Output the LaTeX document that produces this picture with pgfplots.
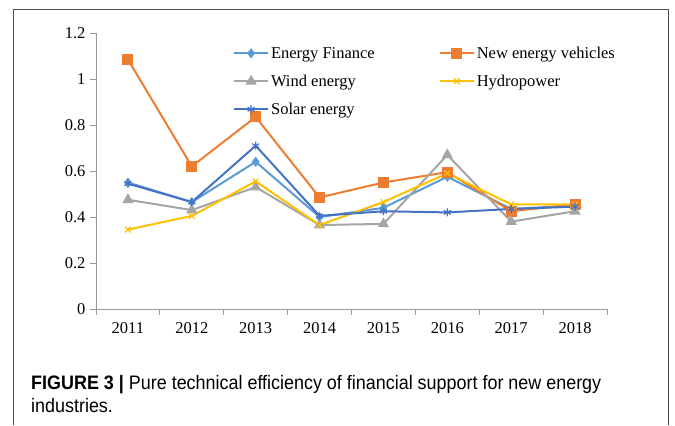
\documentclass[border=0pt]{standalone}
\usepackage{fontspec}
\setmainfont{Liberation Serif}
\newfontfamily\capfont[FakeStretch=0.92]{Liberation Sans}
\usepackage{pgfplots}
\pgfplotsset{compat=1.18}
\definecolor{cEF}{HTML}{5B9BD5}
\definecolor{cNEV}{HTML}{ED7D31}
\definecolor{cWind}{HTML}{A5A5A5}
\definecolor{cHydro}{HTML}{FFC000}
\definecolor{cSolar}{HTML}{4472C4}
\definecolor{axgray}{HTML}{9A9A9A}
\begin{document}
\begin{tikzpicture}[x=1pt,y=1pt]
\path (0,0) rectangle (675,-425);
\draw[black!70, line width=1pt] (13,-425) -- (13,-9) -- (668,-9) -- (668,-425);
\begin{axis}[
  at={(96pt,-309pt)}, anchor=south west,
  scale only axis, width=511pt, height=276pt,
  xmin=-0.5, xmax=7.5, ymin=0, ymax=1.2,
  axis x line*=bottom, axis y line*=left,
  axis line style={-, axgray, line width=1pt},
  xtick={0,...,7},
  xticklabels={2011,2012,2013,2014,2015,2016,2017,2018},
  minor xtick={-0.5,0.5,...,7.5},
  major x tick style={draw=none},
  minor x tick style={axgray, line width=1pt},
  minor tick length=6pt,
  ytick={0,0.2,0.4,0.6,0.8,1,1.2},
  yticklabels={0,0.2,0.4,0.6,0.8,1,1.2},
  y tick style={axgray, line width=1pt},
  major tick length=6pt,
  tick align=outside,
  xtick pos=bottom, ytick pos=left,
  tick label style={font=\fontsize{16.5}{19}\selectfont},
  xticklabel style={yshift=-4pt},
  yticklabel style={xshift=-1pt},
  legend style={at={(0.262,0.965)}, anchor=north west, draw=none, fill=none,
    font=\fontsize{16.5}{19}\selectfont, row sep=11pt,
    /tikz/every even column/.append style={column sep=62pt}},
  legend columns=2,
  legend cell align=left,
  legend image code/.code={\draw[mark repeat=2,mark phase=2,#1] plot coordinates {(0pt,0pt) (17pt,0pt) (34pt,0pt)};},
  every axis plot/.append style={line width=2pt},
]
\addplot[cEF, mark=diamond*, mark size=3.5pt] coordinates {(0,0.55) (1,0.465) (2,0.64) (3,0.40) (4,0.44) (5,0.575) (6,0.435) (7,0.45)};
\addlegendentry{Energy Finance}
\addplot[cNEV, mark=square*, mark size=4.5pt] coordinates {(0,1.085) (1,0.62) (2,0.835) (3,0.485) (4,0.55) (5,0.595) (6,0.425) (7,0.455)};
\addlegendentry{New energy vehicles}
\addplot[cWind, mark=triangle*, mark size=4.5pt] coordinates {(0,0.475) (1,0.43) (2,0.53) (3,0.365) (4,0.37) (5,0.67) (6,0.38) (7,0.425)};
\addlegendentry{Wind energy}
\addplot[cHydro, mark=x, mark size=4pt, mark options={line width=1.2pt}] coordinates {(0,0.345) (1,0.405) (2,0.555) (3,0.365) (4,0.465) (5,0.59) (6,0.455) (7,0.455)};
\addlegendentry{Hydropower}
\addplot[cSolar, mark=asterisk, mark size=4pt, mark options={line width=1.2pt}] coordinates {(0,0.545) (1,0.465) (2,0.71) (3,0.405) (4,0.425) (5,0.42) (6,0.435) (7,0.445)};
\addlegendentry{Solar energy}
\end{axis}
\node[anchor=base west, inner sep=0pt] at (31,-389) {\capfont\fontsize{19.5}{23}\selectfont\textbf{FIGURE 3 |} Pure technical efficiency of financial support for new energy};
\node[anchor=base west, inner sep=0pt] at (31,-412) {\capfont\fontsize{19.5}{23}\selectfont industries.};
\end{tikzpicture}
\end{document}
